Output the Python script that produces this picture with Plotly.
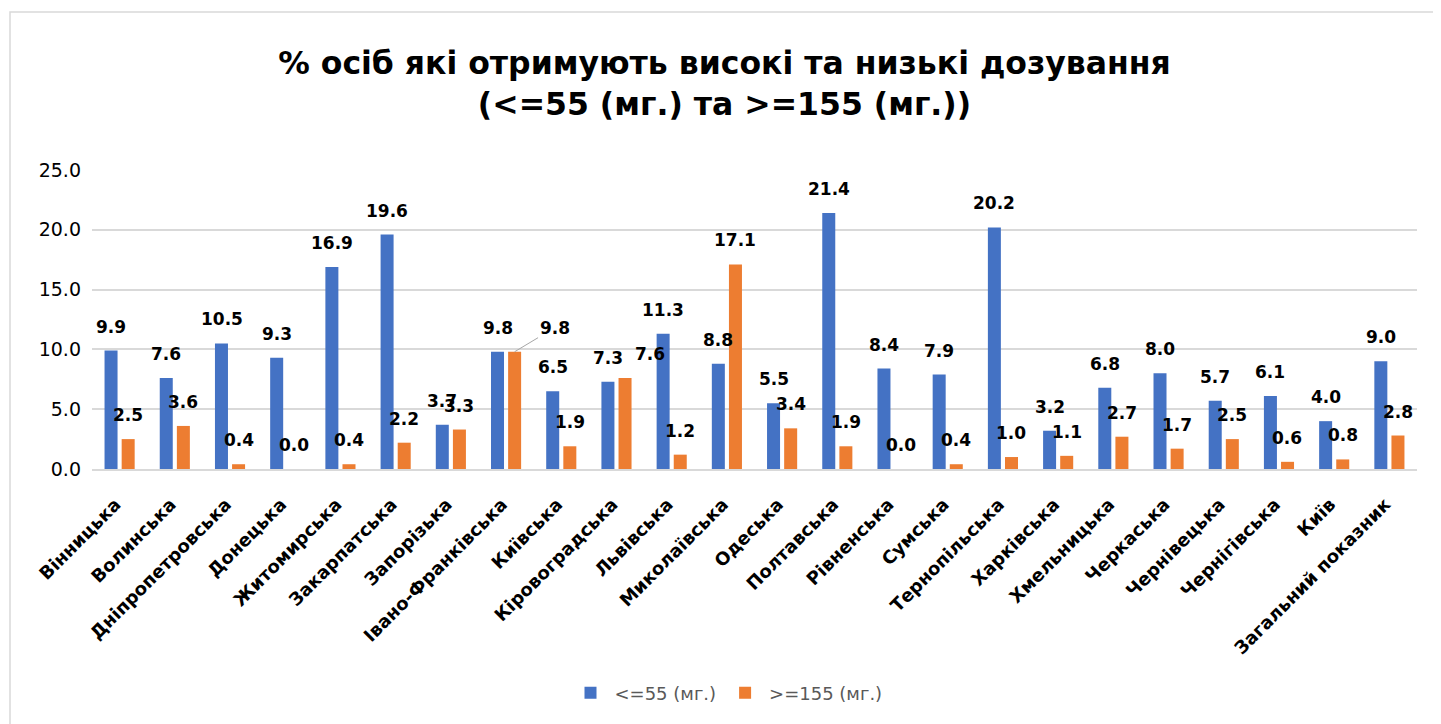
import plotly.graph_objects as go

categories = ["Вінницька", "Волинська", "Дніпропетровська", "Донецька", "Житомирська",
              "Закарпатська", "Запорізька", "Івано-Франківська", "Київська", "Кіровоградська",
              "Львівська", "Миколаївська", "Одеська", "Полтавська", "Рівненська", "Сумська",
              "Тернопільська", "Харківська", "Хмельницька", "Черкаська", "Чернівецька",
              "Чернігівська", "Київ", "Загальний показник"]
low_dose = [9.9, 7.6, 10.5, 9.3, 16.9, 19.6, 3.7, 9.8, 6.5, 7.3, 11.3, 8.8, 5.5, 21.4,
            8.4, 7.9, 20.2, 3.2, 6.8, 8.0, 5.7, 6.1, 4.0, 9.0]
high_dose = [2.5, 3.6, 0.4, 0.0, 0.4, 2.2, 3.3, 9.8, 1.9, 7.6, 1.2, 17.1, 3.4, 1.9,
             0.0, 0.4, 1.0, 1.1, 2.7, 1.7, 2.5, 0.6, 0.8, 2.8]
series_names = ["<=55 (мг.)", ">=155 (мг.)"]
y_ticks = [0, 5, 10, 15, 20, 25]

BLUE = "#4472C4"
ORANGE = "#ED7D31"
FONT = "DejaVu Sans"

W, H = 1433, 716
L, R, T, B = 84, 24, 162, 255
PW = W - L - R
PH = H - T - B

fig = go.Figure()
fig.add_trace(go.Bar(x=categories, y=low_dose, name=series_names[0],
                     marker=dict(color=BLUE, line=dict(width=0))))
fig.add_trace(go.Bar(x=categories, y=high_dose, name=series_names[1],
                     marker=dict(color=ORANGE, line=dict(width=0))))

lab_font = dict(family=FONT, size=17, color="black", weight="bold")
annotations = []
OFF = 8.5
for i, c in enumerate(categories):
    annotations.append(dict(x=c, y=low_dose[i], xref="x", yref="y", text=f"{low_dose[i]:.1f}",
                            showarrow=False, xshift=-OFF, yshift=24, yanchor="middle",
                            font=lab_font))
    if c == "Івано-Франківська":
        annotations.append(dict(x=c, y=high_dose[i], xref="x", yref="y", text=f"{high_dose[i]:.1f}",
                                showarrow=True, arrowhead=0, arrowwidth=1, arrowcolor="#A6A6A6",
                                ax=40, ay=-24, xshift=OFF, standoff=0, font=lab_font))
        continue
    extra = 25 if c == "Кіровоградська" else 0
    annotations.append(dict(x=c, y=high_dose[i], xref="x", yref="y", text=f"{high_dose[i]:.1f}",
                            showarrow=False, xshift=OFF + extra, yshift=24, yanchor="middle",
                            font=lab_font))

fig.update_layout(
    width=W, height=H,
    margin=dict(l=L, r=R, t=T, b=B),
    paper_bgcolor="white", plot_bgcolor="white",
    barmode="group", bargap=0.38, bargroupgap=0.24,
    title=dict(text="% осіб які отримують високі та низькі дозування<br>(<=55 (мг.) та >=155 (мг.))",
               x=0.5, xanchor="center", y=1 - 66 / H, yanchor="middle",
               font=dict(family=FONT, size=31.5, color="black", weight="bold")),
    font=dict(family=FONT),
    showlegend=True,
    legend=dict(orientation="h", x=(727 - 8 - L) / PW, xanchor="center",
                y=(T + PH - (693 - 8)) / PH, yanchor="middle",
                font=dict(family=FONT, size=18, color="#595959"),
                itemwidth=38, traceorder="normal"),
    annotations=annotations,
    shapes=[dict(type="rect", xref="paper", yref="paper",
                 x0=(2 - L) / PW, x1=(W + 20 - L) / PW,
                 y0=(T + PH - (H + 20)) / PH, y1=(T + PH - 4) / PH,
                 line=dict(color="#D9D9D9", width=1.5), fillcolor="rgba(0,0,0,0)", layer="below")],
)
fig.update_xaxes(tickangle=-45, showgrid=False, showline=True, linecolor="#D9D9D9", linewidth=1.5,
                 ticks="", ticklabelstandoff=16, ticklabelshift=-4,
                 tickfont=dict(family=FONT, size=18, color="black", weight="bold"))
fig.update_yaxes(range=[0, 25], tickvals=y_ticks, tickformat=".1f", showgrid=True,
                 gridcolor="#D9D9D9", gridwidth=1.5, zeroline=False, showline=False, ticks="",
                 tickfont=dict(family=FONT, size=19, color="black"), ticklabelstandoff=10)

fig.write_html("out.html")
